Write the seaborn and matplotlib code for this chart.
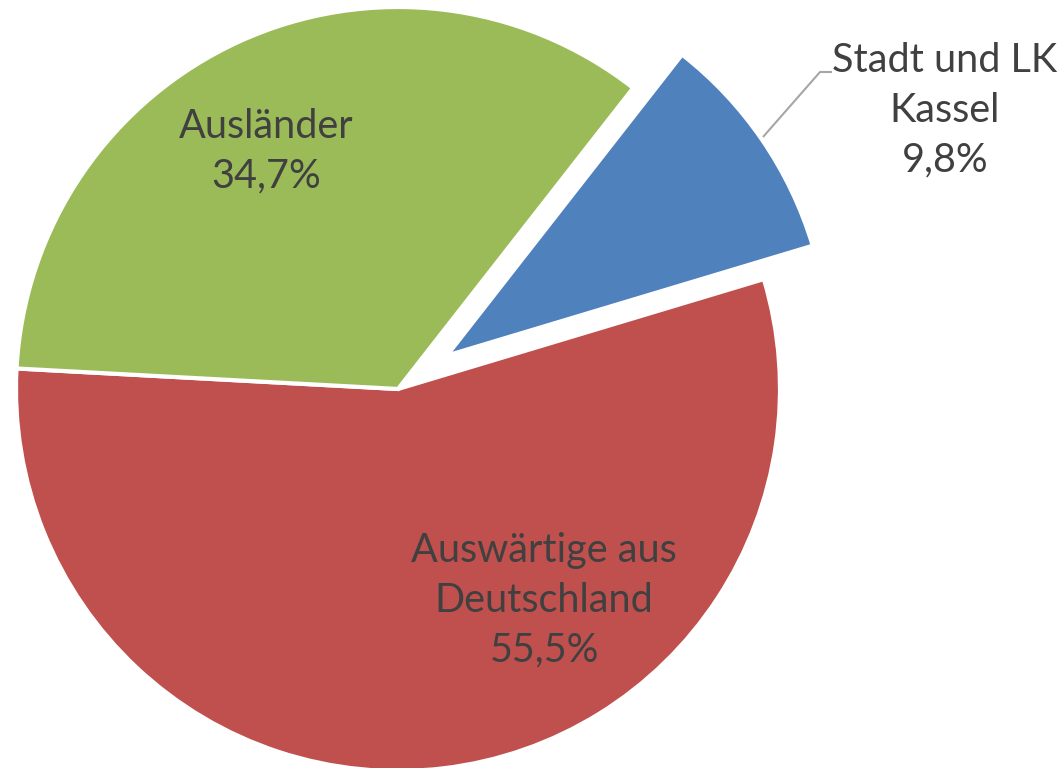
import matplotlib
matplotlib.use("Agg")
import matplotlib.pyplot as plt
import seaborn as sns

categories = ["Stadt und LK\nKassel", "Auswärtige aus\nDeutschland", "Ausländer"]
values = [9.8, 55.5, 34.7]
value_labels = ["9,8%", "55,5%", "34,7%"]
colors = ["#4F81BD", "#C0504D", "#9BBB59"]
explode_frac = [0.155, 0.0, 0.0]

sns.set_theme(style="white")
plt.rcParams["font.family"] = ["Lato", "DejaVu Sans"]

W, H = 1060, 768
fig = plt.figure(figsize=(W / 100, H / 100), dpi=100)
ax = fig.add_axes([0, 0, 1, 1])

cx, cy, R = 398, H - 389, 382
wedges, _ = ax.pie(values, colors=colors, explode=[e * R for e in explode_frac],
                   startangle=52, counterclock=False, radius=R, center=(cx, cy),
                   frame=True, wedgeprops=dict(edgecolor="white", linewidth=3))
ax.set_xlim(0, W)
ax.set_ylim(0, H)
ax.set_aspect("equal")
ax.axis("off")

txt = "#404040"
fs = 28.5
label_pos = [(945, H - 110), (544, H - 600), (266, H - 151)]
for cat, val, (x, y) in zip(categories, value_labels, label_pos):
    ax.text(x, y, f"{cat}\n{val}", ha="center", va="center", fontsize=fs,
            color=txt, linespacing=1.43)

# leader line for the exploded slice
ax.plot([763, 820, 832], [H - 137, H - 72, H - 72], color="#A6A6A6", lw=1.5,
        solid_capstyle="butt")

fig.savefig("out.png", dpi=100)
